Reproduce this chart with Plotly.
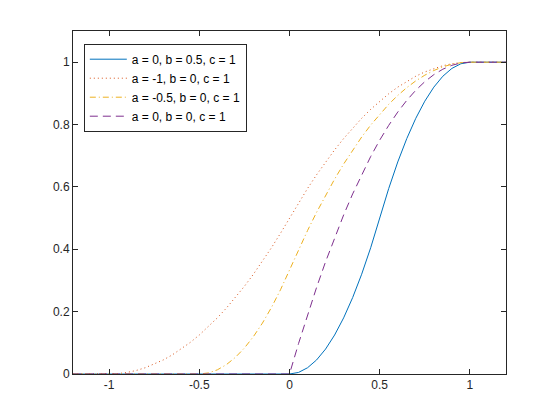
import plotly.graph_objects as go

# Series 1: a = 0, b = 0.5, c = 1
x1 = [-1.2, 0, 0.05, 0.1, 0.15, 0.2, 0.25, 0.3, 0.35, 0.4, 0.45, 0.5,
      0.55, 0.6, 0.65, 0.7, 0.75, 0.8, 0.85, 0.9, 0.95, 1.0, 1.2]
y1 = [0, 0, 0.005, 0.02, 0.045, 0.08, 0.125, 0.18, 0.245, 0.32, 0.405, 0.5,
      0.595, 0.68, 0.755, 0.82, 0.875, 0.92, 0.955, 0.98, 0.995, 1.0, 1.0]

# Series 2: a = -1, b = 0, c = 1
x2 = [-1.2, -1.0, -0.95, -0.9, -0.85, -0.8, -0.75, -0.7, -0.65, -0.6, -0.55, -0.5,
      -0.45, -0.4, -0.35, -0.3, -0.25, -0.2, -0.15, -0.1, -0.05, 0,
      0.05, 0.1, 0.15, 0.2, 0.25, 0.3, 0.35, 0.4, 0.45, 0.5,
      0.55, 0.6, 0.65, 0.7, 0.75, 0.8, 0.85, 0.9, 0.95, 1.0, 1.2]
y2 = [0, 0, 0.00125, 0.005, 0.01125, 0.02, 0.03125, 0.045, 0.06125, 0.08, 0.10125, 0.125,
      0.15125, 0.18, 0.21125, 0.245, 0.28125, 0.32, 0.36125, 0.405, 0.45125, 0.5,
      0.54875, 0.595, 0.63875, 0.68, 0.71875, 0.755, 0.78875, 0.82, 0.84875, 0.875,
      0.89875, 0.92, 0.93875, 0.955, 0.96875, 0.98, 0.98875, 0.995, 0.99875, 1.0, 1.0]

# Series 3: a = -0.5, b = 0, c = 1
x3 = [-1.2, -0.5, -0.45, -0.4, -0.35, -0.3, -0.25, -0.2, -0.15, -0.1, -0.05, 0,
      0.05, 0.1, 0.15, 0.2, 0.25, 0.3, 0.35, 0.4, 0.45, 0.5,
      0.55, 0.6, 0.65, 0.7, 0.75, 0.8, 0.85, 0.9, 0.95, 1.0, 1.2]
y3 = [0, 0, 0.00333, 0.01333, 0.03, 0.05333, 0.08333, 0.12, 0.16333, 0.21333, 0.27, 0.33333,
      0.39833, 0.46, 0.51833, 0.57333, 0.625, 0.67333, 0.71833, 0.76, 0.79833, 0.83333,
      0.865, 0.89333, 0.91833, 0.94, 0.95833, 0.97333, 0.985, 0.99333, 0.99833, 1.0, 1.0]

# Series 4: a = 0, b = 0, c = 1
x4 = [-1.2, 0, 0.05, 0.1, 0.15, 0.2, 0.25, 0.3, 0.35, 0.4, 0.45, 0.5,
      0.55, 0.6, 0.65, 0.7, 0.75, 0.8, 0.85, 0.9, 0.95, 1.0, 1.2]
y4 = [0, 0, 0.0975, 0.19, 0.2775, 0.36, 0.4375, 0.51, 0.5775, 0.64, 0.6975, 0.75,
      0.7975, 0.84, 0.8775, 0.91, 0.9375, 0.96, 0.9775, 0.99, 0.9975, 1.0, 1.0]

names = ["a = 0, b = 0.5, c = 1", "a = -1, b = 0, c = 1",
         "a = -0.5, b = 0, c = 1", "a = 0, b = 0, c = 1"]

xtick_vals = [-1, -0.5, 0, 0.5, 1]
xtick_text = ["-1", "-0.5", "0", "0.5", "1"]
ytick_vals = [0, 0.2, 0.4, 0.6, 0.8, 1]
ytick_text = ["0", "0.2", "0.4", "0.6", "0.8", "1"]

colors = ["#0072BD", "#D95319", "#EDB120", "#7E2F8E"]
dashes = ["solid", "1px,3px", "6px,3px,1px,3px", "8px,5px"]

FONT = "Arial, Liberation Sans, sans-serif"

fig = go.Figure()
for xs, ys, nm, col, ds in zip([x1, x2, x3, x4], [y1, y2, y3, y4], names, colors, dashes):
    fig.add_trace(go.Scatter(x=xs, y=ys, mode="lines", name=nm,
                             line=dict(color=col, width=1, dash=ds)))

axis_common = dict(showgrid=False, zeroline=False, showline=True, linecolor="#262626",
                   linewidth=1, mirror="ticks", ticks="inside", ticklen=5,
                   tickcolor="#262626",
                   tickfont=dict(size=12, color="#262626", family=FONT))

fig.update_layout(
    width=560, height=420,
    margin=dict(l=73, r=54, t=31, b=46),
    paper_bgcolor="white", plot_bgcolor="white",
    showlegend=True,
    legend=dict(x=0.025, y=0.963, xanchor="left", yanchor="top",
                bordercolor="#262626", borderwidth=1, bgcolor="white",
                font=dict(size=12, family=FONT, color="black"),
                tracegroupgap=0, itemwidth=37),
    xaxis=dict(range=[-1.2, 1.2], tickvals=xtick_vals, ticktext=xtick_text, **axis_common),
    yaxis=dict(range=[0, 1.1], tickvals=ytick_vals, ticktext=ytick_text, **axis_common),
)

fig.write_html("out.html", config={"displayModeBar": False},
               post_script="document.body.style.margin='0';")
